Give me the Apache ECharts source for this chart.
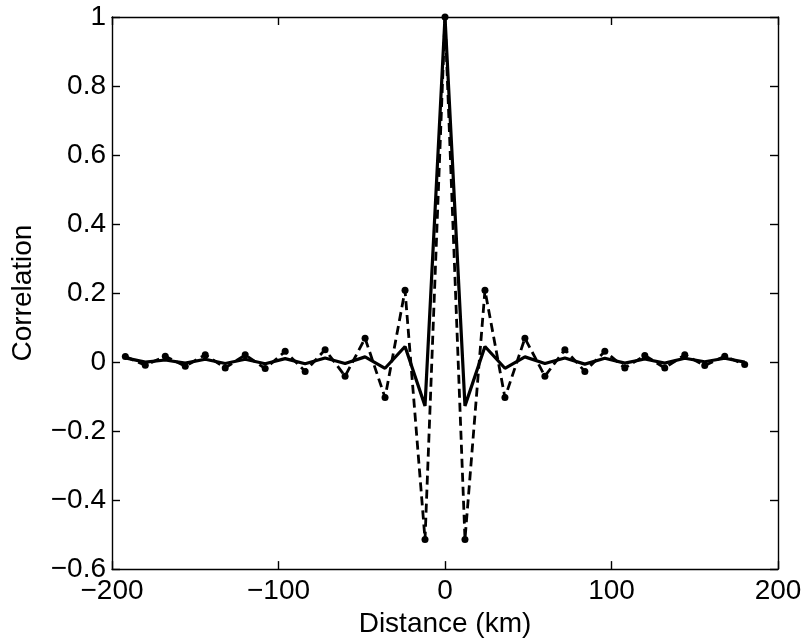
<!DOCTYPE html>
<html>
<head>
<meta charset="utf-8">
<script src="https://cdn.jsdelivr.net/npm/echarts@6/dist/echarts.min.js"></script>
<style>
html,body{margin:0;padding:0;background:#fff;}
#chart{width:805px;height:643px;}
</style>
</head>
<body>
<div id="chart"></div>
<script>
// Distance (km) sample positions
const distances = [-192,-180,-168,-156,-144,-132,-120,-108,-96,-84,-72,-60,-48,-36,-24,-12,0,12,24,36,48,60,72,84,96,108,120,132,144,156,168,180];
// solid curve
const solidValues = [0.012,0.000,0.006,-0.003,0.008,-0.004,0.008,-0.005,0.010,-0.005,0.012,-0.004,0.015,-0.018,0.045,-0.127,1.0,-0.127,0.045,-0.018,0.015,-0.004,0.012,-0.006,0.011,-0.003,0.009,-0.003,0.011,0.001,0.011,0.000];
// dashed curve with dots
const dashedValues = [0.016,-0.009,0.017,-0.012,0.021,-0.017,0.021,-0.019,0.031,-0.027,0.036,-0.041,0.069,-0.103,0.208,-0.514,1.0,-0.514,0.208,-0.103,0.069,-0.041,0.036,-0.027,0.031,-0.017,0.019,-0.017,0.021,-0.010,0.017,-0.007];
const xTicks = [-200,-100,0,100,200];
const yTicks = [-0.6,-0.4,-0.2,0,0.2,0.4,0.6,0.8,1];

const FONT = 'Liberation Sans';
const FS = 28;
const fmt = v => String(+(+v).toFixed(1)).replace('-', '\u2212');
const solidData = distances.map((d,i)=>[d, solidValues[i]]);
const dashedData = distances.map((d,i)=>[d, dashedValues[i]]);

const lineC = '#000';
const axisBase = {
  axisLine:{show:true, onZero:false, lineStyle:{color:lineC, width:1.4}},
  axisTick:{show:true, inside:true, length:8, lineStyle:{color:lineC, width:1.4}},
  splitLine:{show:false}
};

const chart = echarts.init(document.getElementById('chart'), null, {renderer:'canvas'});
chart.setOption({
  animation:false,
  backgroundColor:'#fff',
  grid:{left:112, right:27, top:17, bottom:68, containLabel:false},
  xAxis:[
    Object.assign({type:'value', position:'bottom', min:xTicks[0], max:xTicks[xTicks.length-1], interval:100,
      name:'Distance (km)', nameLocation:'middle', nameGap:34,
      nameTextStyle:{fontFamily:FONT, fontSize:FS, color:'#000'},
      axisLabel:{show:true, margin:8, fontFamily:FONT, fontSize:FS, color:'#000', formatter:fmt}}, axisBase),
    Object.assign({type:'value', position:'top', min:xTicks[0], max:xTicks[xTicks.length-1], interval:100,
      axisLabel:{show:false}}, axisBase)
  ],
  yAxis:[
    Object.assign({type:'value', position:'left', min:yTicks[0], max:yTicks[yTicks.length-1], interval:0.2,
      name:'Correlation', nameLocation:'middle', nameGap:75, nameRotate:90,
      nameTextStyle:{fontFamily:FONT, fontSize:FS, color:'#000'},
      axisLabel:{show:true, margin:6, fontFamily:FONT, fontSize:FS, color:'#000', formatter:fmt}}, axisBase),
    Object.assign({type:'value', position:'right', min:yTicks[0], max:yTicks[yTicks.length-1], interval:0.2,
      axisLabel:{show:false}}, axisBase)
  ],
  series:[
    {type:'line', data:dashedData, xAxisIndex:0, yAxisIndex:0,
      symbol:'circle', symbolSize:7, showSymbol:true,
      itemStyle:{color:'#000'},
      lineStyle:{color:'#000', width:2.8, type:[9,5]}},
    {type:'line', data:solidData, xAxisIndex:0, yAxisIndex:0,
      symbol:'none',
      lineStyle:{color:'#000', width:3.2, type:'solid'}}
  ]
});
</script>
</body>
</html>
